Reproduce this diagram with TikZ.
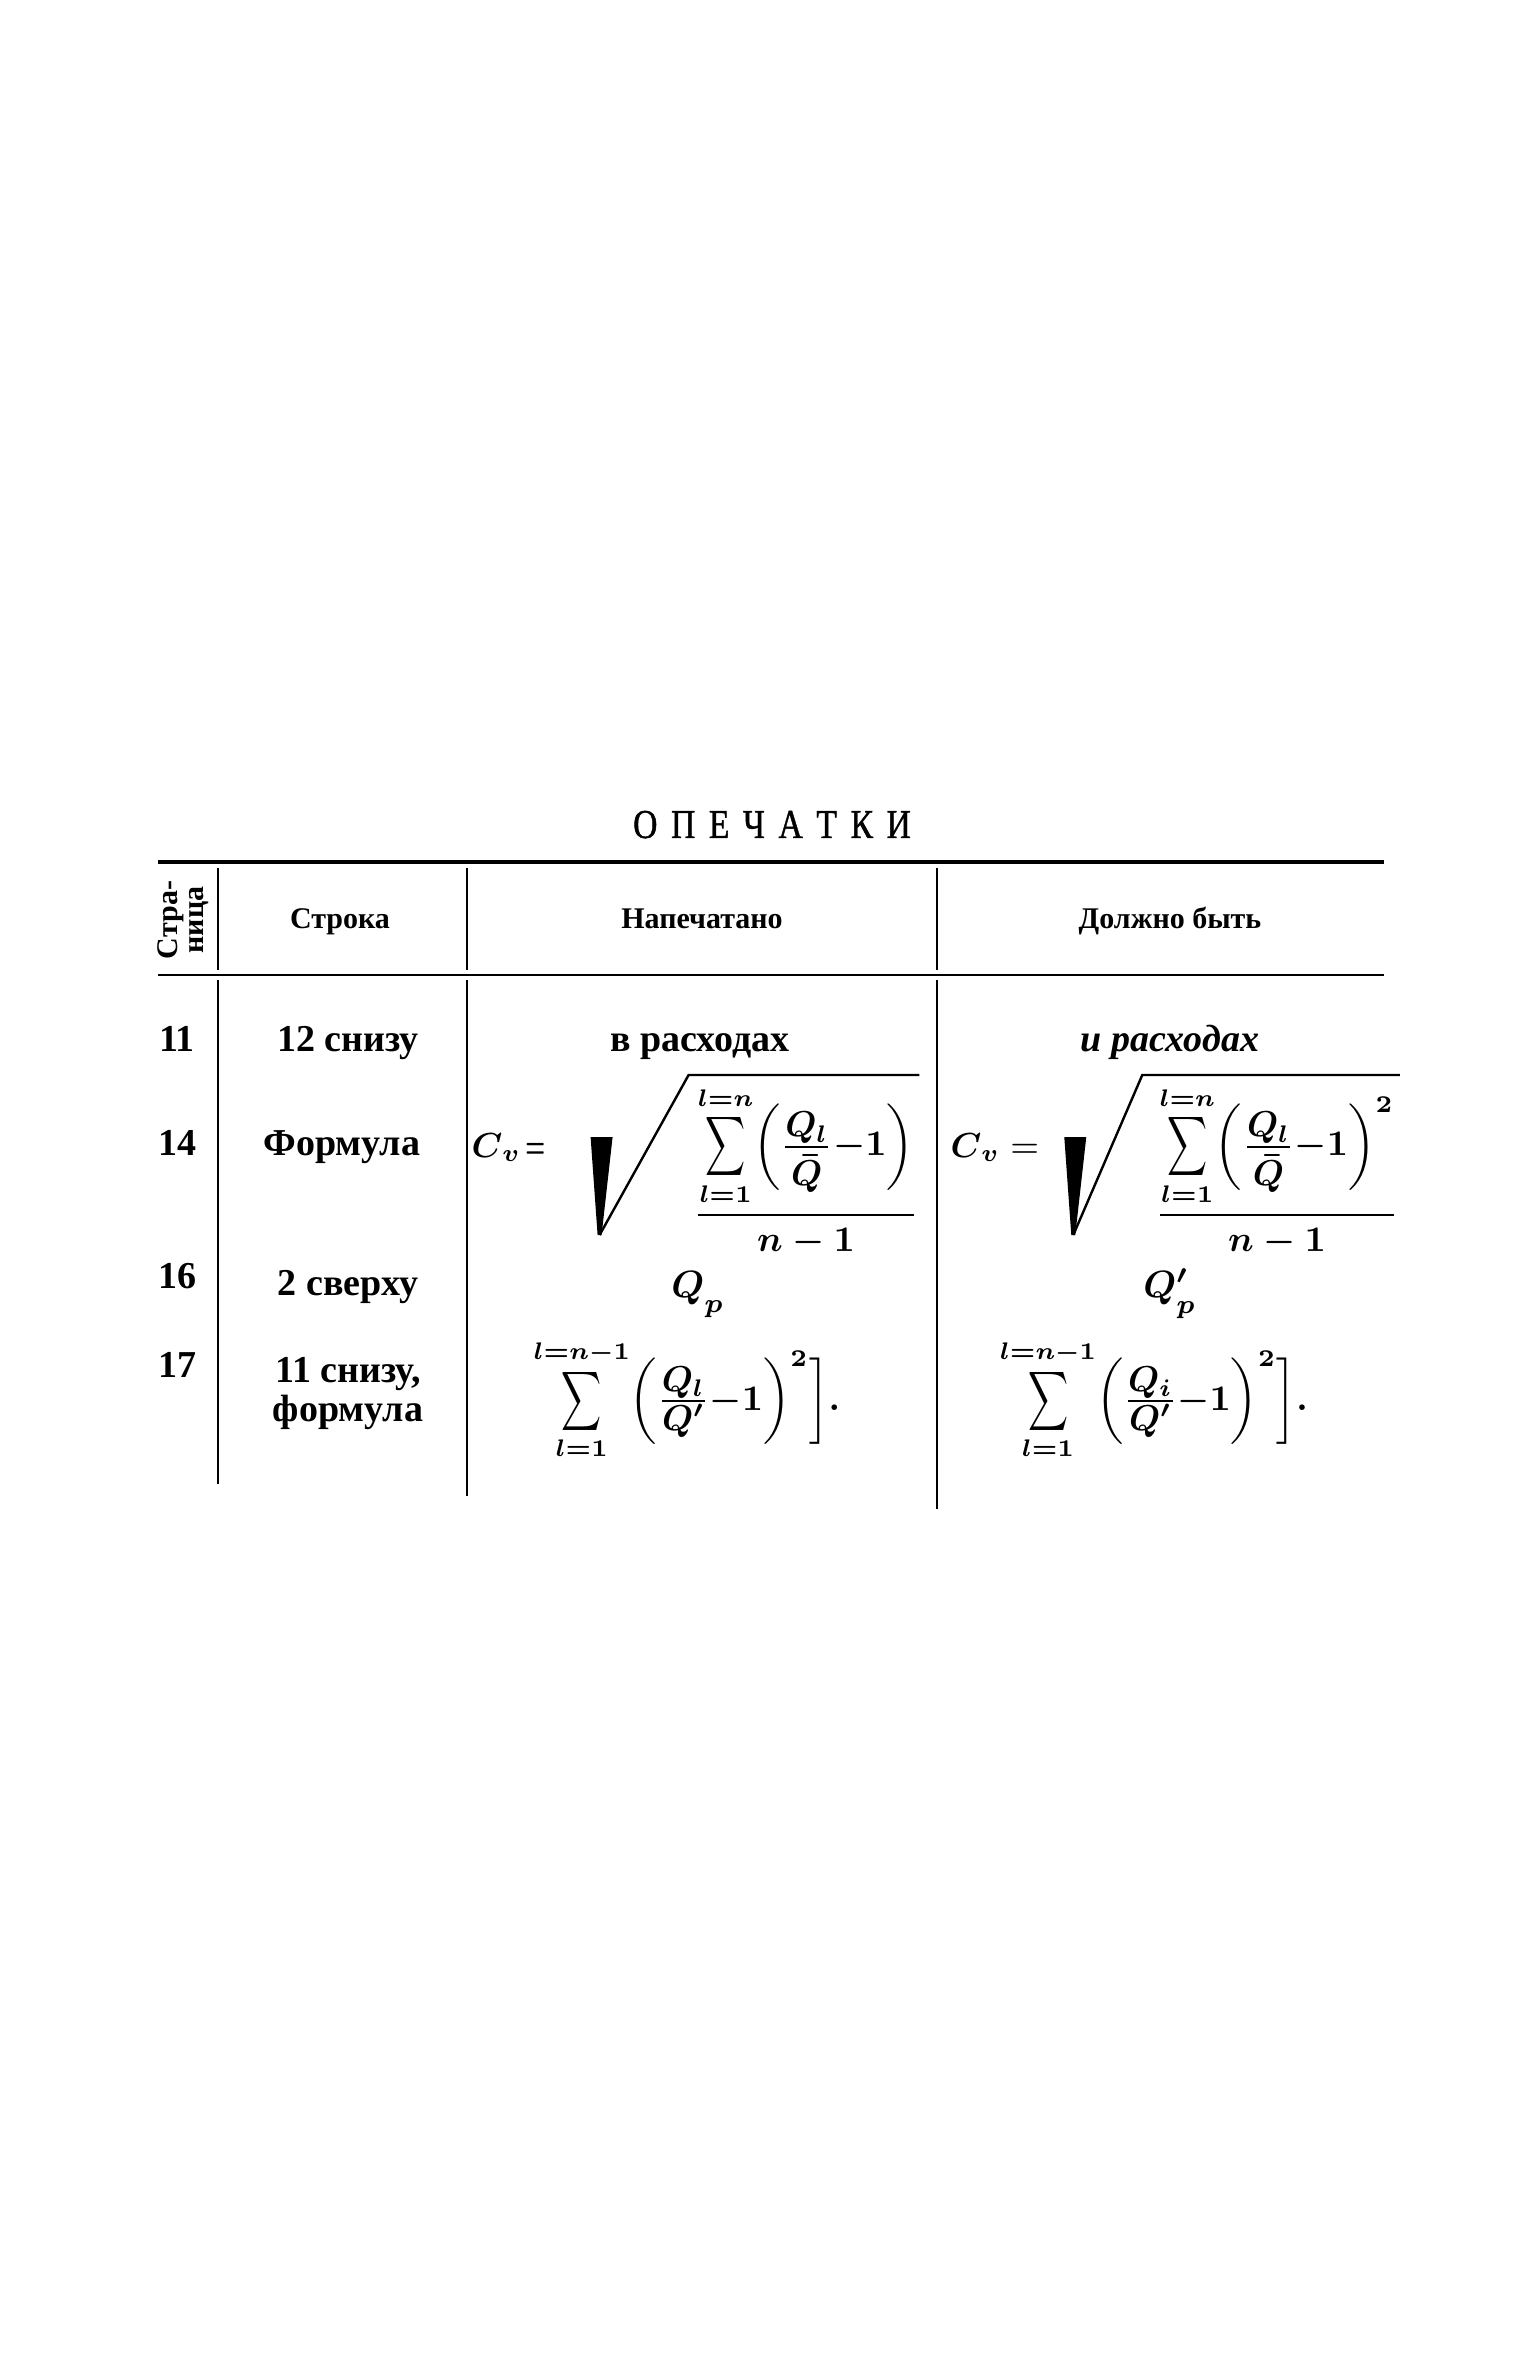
\RequirePackage{fix-cm}
\documentclass[tikz,border=0pt]{standalone}
\usepackage{amsmath}
\usepackage{graphicx}
\usepackage{fontspec}
\setmainfont{Liberation Serif}
\newfontfamily\titlefont{Liberation Serif}[FakeStretch=0.82,FakeBold=1]
\usetikzlibrary{calc}
\newcommand{\bigfr}[2]{\genfrac{}{}{0.6pt}{0}{#1}{#2}}
\newcommand{\smfr}[2]{\genfrac{}{}{0.5pt}{1}{\textstyle #1}{\textstyle #2}}
\newcommand{\tallsum}{\mathop{\vcenter{\hbox{\scalebox{0.75}[1.15]{$\displaystyle\sum$}}}}\limits}
\newcommand{\qbar}{\bar{Q}\rule{0pt}{8.8pt}}
\tikzset{
  bodytext/.style={inner sep=0pt, anchor=base, font=\fontsize{9.5}{11}\selectfont\bfseries},
  headtext/.style={inner sep=0pt, anchor=base, font=\fontsize{7.5}{6.5}\selectfont\bfseries},
  mathtext/.style={inner sep=0pt, anchor=base, font=\fontsize{9.5}{11}\selectfont\boldmath},
  cvmath/.style={inner sep=0pt, anchor=base east, font=\fontsize{8.7}{11}\selectfont},
  fmath/.style={inner sep=0pt, anchor=base, font=\fontsize{9}{11}\selectfont\boldmath},
  titletext/.style={inner sep=0pt, anchor=base, font=\fontsize{10.25}{12}\titlefont},
  heavyrule/.style={line width=1pt},
  thinrule/.style={line width=0.6pt},
  radline/.style={line width=0.6pt},
}
\begin{document}
\begin{tikzpicture}[x=0.25pt,y=-0.25pt]
\fill[white] (0,0) rectangle (1535,2361);
\useasboundingbox (0,0) rectangle (1535,2361);

% title
\node[titletext] (title) at (772,838) {О\kern3.4pt П\kern3.4pt Е\kern3.4pt Ч\kern3.4pt А\kern3.4pt Т\kern3.4pt К\kern3.4pt И};

% rules
\draw[heavyrule] (158,862) -- (1384,862);
\draw[thinrule] (158,975) -- (1384,975);
\foreach \x in {218,467,937} \draw[thinrule] (\x,868) -- (\x,970);
\draw[thinrule] (218,980) -- (218,1484);
\draw[thinrule] (467,980) -- (467,1496);
\draw[thinrule] (937,980) -- (937,1509);

% header
\node[headtext, rotate=90, align=center, anchor=center] (hpage) at (183,920) {Стра-\\ница};
\node[headtext] (hline) at (340,929) {Строка};
\node[headtext] (hprint) at (702,929) {Напечатано};
\node[headtext] (hshould) at (1170,929) {Должно быть};

% row 11
\node[bodytext] (p11) at (177,1051) {11};
\node[bodytext] (l11) at (348,1051) {12 снизу};
\node[bodytext] (a11) at (700,1051) {в расходах};
\node[bodytext, font=\fontsize{9.5}{11}\selectfont\bfseries\itshape] (b11) at (1170,1051) {и расходах};

% row 14
\node[bodytext] (p14) at (177,1155) {14};
\node[bodytext] (l14) at (342,1155) {Формула};
\node[cvmath] (cv1) at (546,1157) {$\boldsymbol{C}_{\boldsymbol{v}}\mkern2mu\mathord{\scalebox{0.6}[1]{\boldmath$=$}}$};
\node[fmath] (f1) at (806,1224) {$\bigfr{\tallsum_{l=1}^{l=n}\biggl(\smfr{Q_l}{\qbar}{-}1\biggr)}{n-1}$};
\path (f1.north west) ++(-4,-10) coordinate (r1a);
\path (f1.base west) ++(-93,11) coordinate (r1t);
\draw[radline] (r1t) -- (r1a) -- (r1a -| f1.east);
\fill ($(r1t)+(-9,-98)$) -- ($(r1t)+(13,-98)$) -- ($(r1t)+(2,0)$) -- ($(r1t)+(-2,0)$) -- cycle;

\node[cvmath] (cv2) at (1040,1157) {$\boldsymbol{C}_{\boldsymbol{v}}\mkern5mu{=}$};
\node[fmath] (f2) at (1277,1224) {$\bigfr{\tallsum_{l=1}^{l=n}\biggl(\smfr{Q_l}{\qbar}{-}1\biggr)^{2}}{n-1}$};
\path (f2.north west) ++(-12,-10) coordinate (r2a);
\path (f2.base west) ++(-81,11) coordinate (r2t);
\draw[radline] (r2t) -- (r2a) -- (r2a -| f2.east);
\fill ($(r2t)+(-9,-98)$) -- ($(r2t)+(13,-98)$) -- ($(r2t)+(2,0)$) -- ($(r2t)+(-2,0)$) -- cycle;

% row 16
\node[bodytext] (p16) at (177,1288) {16};
\node[bodytext] (l16) at (348,1295) {2 сверху};
\node[mathtext] (a16) at (698,1297) {$Q_{\raisebox{-2.5pt}{$\scriptstyle p$}}$};
\node[mathtext] (b16) at (1170,1297) {$Q'_{\raisebox{-1.3pt}{$\scriptstyle p$}}$};

% row 17
\node[bodytext] (p17) at (177,1377) {17};
\node[bodytext] (l17a) at (348,1382) {11 снизу,};
\node[bodytext] (l17b) at (348,1421) {формула};
\node[fmath] (a17) at (687,1410) {$\tallsum_{l=1}^{l=n-1}\biggl(\smfr{Q_l}{Q'}{-}1\biggr)^{2}\biggr].$};
\node[fmath] (b17) at (1154,1410) {$\tallsum_{l=1}^{l=n-1}\biggl(\smfr{Q_i}{Q'}{-}1\biggr)^{2}\biggr].$};
\end{tikzpicture}
\end{document}
